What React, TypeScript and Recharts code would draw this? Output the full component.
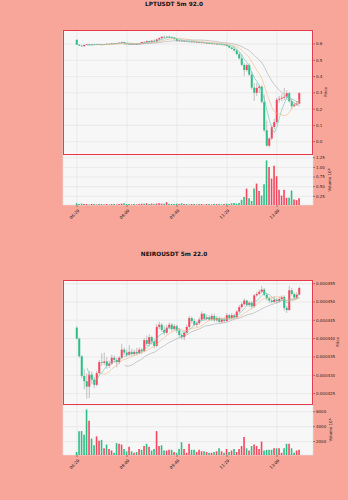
import React from "react";
import { ComposedChart, Bar, Line, XAxis, YAxis, CartesianGrid, Cell } from "recharts";

// x tick labels (5m candles, one label every 20 candles)
const TICK_INDEX = [0, 20, 40, 60, 80];
const TICK_LABELS = ["06:20", "08:00", "09:40", "11:20", "13:00"];

// LPTUSDT 5m
const LPT_OPEN = [
  0.625, 0.596, 0.59, 0.586, 0.594, 0.598, 0.595, 0.597, 0.596, 0.598,
  0.597, 0.595, 0.599, 0.601, 0.6, 0.603, 0.602, 0.605, 0.608, 0.612,
  0.604, 0.6, 0.599, 0.6, 0.598, 0.6, 0.602, 0.612, 0.61, 0.618,
  0.612, 0.62, 0.616, 0.628, 0.636, 0.644, 0.642, 0.645, 0.64, 0.638,
  0.63, 0.618, 0.62, 0.616, 0.618, 0.615, 0.613, 0.614, 0.611, 0.612,
  0.608, 0.609, 0.605, 0.606, 0.602, 0.603, 0.599, 0.601, 0.597, 0.594,
  0.596, 0.588, 0.578, 0.57, 0.56, 0.538, 0.512, 0.472, 0.44, 0.47,
  0.412, 0.332, 0.3, 0.33, 0.338, 0.245, 0.07, -0.025, 0.02, 0.09,
  0.12, 0.258, 0.264, 0.27, 0.276, 0.298, 0.248, 0.218, 0.228, 0.234,
];
const LPT_HIGH = [
  0.63, 0.598, 0.593, 0.596, 0.6, 0.601, 0.599, 0.6, 0.6, 0.601,
  0.6, 0.6, 0.603, 0.604, 0.605, 0.606, 0.607, 0.61, 0.615, 0.613,
  0.606, 0.603, 0.602, 0.603, 0.601, 0.604, 0.614, 0.618, 0.622, 0.62,
  0.624, 0.628, 0.632, 0.64, 0.648, 0.65, 0.648, 0.648, 0.646, 0.64,
  0.632, 0.624, 0.623, 0.62, 0.621, 0.619, 0.617, 0.616, 0.615, 0.614,
  0.612, 0.611, 0.609, 0.608, 0.606, 0.605, 0.604, 0.603, 0.601, 0.598,
  0.598, 0.59, 0.582, 0.585, 0.568, 0.552, 0.535, 0.482, 0.478, 0.48,
  0.43, 0.36, 0.36, 0.35, 0.345, 0.29, 0.13, 0.025, 0.1, 0.14,
  0.27, 0.28, 0.29, 0.33, 0.315, 0.305, 0.262, 0.24, 0.25, 0.305,
];
const LPT_LOW = [
  0.594, 0.588, 0.584, 0.585, 0.592, 0.593, 0.593, 0.594, 0.594, 0.595,
  0.593, 0.594, 0.597, 0.598, 0.599, 0.6, 0.601, 0.603, 0.604, 0.603,
  0.598, 0.597, 0.596, 0.597, 0.596, 0.598, 0.6, 0.608, 0.608, 0.61,
  0.61, 0.614, 0.615, 0.624, 0.632, 0.638, 0.638, 0.636, 0.634, 0.628,
  0.615, 0.614, 0.614, 0.612, 0.613, 0.611, 0.61, 0.609, 0.608, 0.606,
  0.605, 0.603, 0.602, 0.6, 0.599, 0.597, 0.596, 0.595, 0.592, 0.59,
  0.585, 0.574, 0.566, 0.555, 0.532, 0.505, 0.465, 0.405, 0.43, 0.405,
  0.32, 0.25, 0.28, 0.3, 0.235, 0.06, -0.03, -0.035, 0.01, 0.075,
  0.11, 0.24, 0.25, 0.255, 0.255, 0.24, 0.205, 0.212, 0.22, 0.228,
];
const LPT_CLOSE = [
  0.596, 0.59, 0.586, 0.594, 0.598, 0.595, 0.597, 0.596, 0.598, 0.597,
  0.595, 0.599, 0.601, 0.6, 0.603, 0.602, 0.605, 0.608, 0.612, 0.604,
  0.6, 0.599, 0.6, 0.598, 0.6, 0.602, 0.612, 0.61, 0.618, 0.612,
  0.62, 0.616, 0.628, 0.636, 0.644, 0.642, 0.645, 0.64, 0.638, 0.63,
  0.618, 0.62, 0.616, 0.618, 0.615, 0.613, 0.614, 0.611, 0.612, 0.608,
  0.609, 0.605, 0.606, 0.602, 0.603, 0.599, 0.601, 0.597, 0.594, 0.596,
  0.588, 0.578, 0.57, 0.56, 0.538, 0.512, 0.472, 0.44, 0.47, 0.412,
  0.332, 0.3, 0.33, 0.338, 0.245, 0.07, -0.025, 0.02, 0.09, 0.12,
  0.258, 0.264, 0.27, 0.276, 0.298, 0.248, 0.218, 0.228, 0.234, 0.298,
];
const LPT_VOLUME = [
  0.07, 0.05, 0.06, 0.05, 0.05, 0.04, 0.05, 0.05, 0.04, 0.05,
  0.05, 0.04, 0.05, 0.04, 0.05, 0.05, 0.04, 0.05, 0.06, 0.07,
  0.05, 0.05, 0.04, 0.05, 0.04, 0.05, 0.06, 0.06, 0.07, 0.05,
  0.06, 0.05, 0.06, 0.07, 0.06, 0.06, 0.1, 0.06, 0.05, 0.05,
  0.06, 0.05, 0.07, 0.05, 0.05, 0.04, 0.05, 0.05, 0.04, 0.05,
  0.05, 0.04, 0.05, 0.05, 0.04, 0.05, 0.05, 0.05, 0.04, 0.05,
  0.06, 0.05, 0.07, 0.08, 0.06, 0.08, 0.16, 0.23, 0.45, 0.2,
  0.13, 0.45, 0.58, 0.39, 0.27, 0.56, 1.18, 1.01, 0.71, 1.04,
  0.77, 0.42, 0.27, 0.42, 0.21, 0.21, 0.4, 0.17, 0.15, 0.2,
];

// NEIROUSDT 5m, prices in units of 1e-6
const NEIRO_OPEN = [
  443.0, 440.0, 435.2, 429.8, 428.4, 426.9, 430.2, 428.8, 427.4, 430.6,
  433.6, 433.4, 433.8, 432.6, 433.2, 434.8, 434.2, 433.6, 434.8, 437.0,
  436.2, 435.6, 436.4, 435.8, 436.4, 436.0, 437.0, 436.6, 439.6, 438.6,
  440.4, 439.2, 438.0, 443.2, 443.8, 442.4, 441.6, 443.0, 443.8, 442.6,
  443.4, 442.2, 441.0, 440.4, 441.6, 443.2, 445.6, 444.8, 443.8, 444.2,
  445.2, 446.8, 445.4, 445.8, 445.2, 446.2, 445.0, 445.6, 444.6, 445.2,
  444.8, 446.4, 445.6, 446.4, 445.8, 447.4, 448.6, 449.4, 450.4, 449.2,
  449.8, 448.8, 451.8, 452.2, 452.8, 453.4, 452.0, 451.0, 450.4, 450.0,
  450.6, 450.2, 450.8, 451.4, 448.4, 447.8, 453.2, 452.2, 451.2, 452.0,
];
const NEIRO_HIGH = [
  443.3, 440.3, 435.5, 431.8, 430.5, 431.2, 431.0, 429.6, 431.2, 434.2,
  436.0, 436.2, 435.0, 434.0, 435.6, 435.4, 434.8, 435.2, 438.6, 437.6,
  437.0, 438.2, 437.2, 437.0, 437.5, 437.6, 437.4, 440.2, 440.8, 441.2,
  440.8, 440.0, 444.0, 444.6, 444.2, 443.4, 443.8, 444.4, 444.2, 444.0,
  443.8, 442.8, 441.6, 442.0, 443.8, 446.2, 446.0, 445.4, 444.8, 445.8,
  447.4, 447.0, 446.6, 446.4, 446.8, 446.8, 446.2, 446.0, 445.8, 445.8,
  447.0, 446.8, 447.0, 446.8, 447.8, 449.2, 450.0, 451.0, 450.6, 450.2,
  450.2, 452.2, 452.8, 453.4, 454.4, 453.8, 452.4, 451.4, 451.0, 451.6,
  451.0, 451.4, 451.8, 451.8, 449.0, 454.4, 453.8, 452.6, 452.6, 454.2,
];
const NEIRO_LOW = [
  439.8, 434.8, 429.2, 426.2, 423.6, 423.8, 427.6, 426.5, 427.0, 430.2,
  432.6, 432.8, 431.8, 432.0, 432.8, 433.5, 432.2, 433.0, 434.5, 435.6,
  435.0, 435.2, 435.2, 435.3, 435.5, 435.8, 435.9, 436.3, 438.0, 437.8,
  438.4, 437.4, 437.6, 442.6, 441.8, 441.0, 441.2, 442.6, 442.0, 442.2,
  441.6, 440.4, 439.8, 439.6, 441.2, 442.8, 444.2, 443.4, 443.2, 443.8,
  444.8, 445.0, 445.0, 444.8, 444.8, 444.6, 444.6, 444.2, 444.2, 444.4,
  444.6, 445.2, 445.2, 445.4, 445.6, 447.0, 448.2, 449.0, 448.8, 448.6,
  448.2, 448.4, 451.4, 451.8, 452.4, 451.6, 450.4, 449.8, 449.6, 449.8,
  449.6, 449.8, 450.4, 447.6, 447.0, 447.6, 451.8, 450.8, 450.8, 451.8,
];
const NEIRO_CLOSE = [
  440.0, 435.2, 429.8, 428.4, 426.9, 430.2, 428.8, 427.4, 430.6, 433.6,
  433.4, 433.8, 432.6, 433.2, 434.8, 434.2, 433.6, 434.8, 437.0, 436.2,
  435.6, 436.4, 435.8, 436.4, 436.0, 437.0, 436.6, 439.6, 438.6, 440.4,
  439.2, 438.0, 443.2, 443.8, 442.4, 441.6, 443.0, 443.8, 442.6, 443.4,
  442.2, 441.0, 440.4, 441.6, 443.2, 445.6, 444.8, 443.8, 444.2, 445.2,
  446.8, 445.4, 445.8, 445.2, 446.2, 445.0, 445.6, 444.6, 445.2, 444.8,
  446.4, 445.6, 446.4, 445.8, 447.4, 448.6, 449.4, 450.4, 449.2, 449.8,
  448.8, 451.8, 452.2, 452.8, 453.4, 452.0, 451.0, 450.4, 450.0, 450.6,
  450.2, 450.8, 451.4, 448.4, 447.8, 453.2, 452.2, 451.2, 452.0, 453.8,
];
const NEIRO_VOLUME = [
  600, 3400, 3400, 2900, 6300, 4800, 2400, 1500, 2700, 2100,
  2200, 1100, 1600, 1000, 800, 500, 1800, 1700, 1600, 1000,
  700, 1300, 700, 500, 600, 1000, 900, 1400, 1700, 1300,
  800, 1000, 3400, 1400, 1500, 800, 800, 900, 900, 600,
  500, 1000, 1900, 1000, 500, 1700, 900, 900, 600, 900,
  700, 700, 600, 500, 500, 600, 700, 1100, 700, 500,
  1000, 600, 800, 1000, 600, 1000, 1400, 2600, 1100, 800,
  1400, 1600, 1400, 1000, 2000, 800, 900, 900, 900, 1100,
  1100, 1100, 500, 1100, 1700, 1700, 1100, 500, 800, 900,
];

const MA_PERIODS = [5, 10, 20];
const MA_COLORS = ["#5cc6b4", "#f3b77f", "#a9a9a9"];

const UP = "#f6465d";
const DOWN = "#2ebd85";
const WICK = "#9a9a9a";
const BG = "#f9a69a";
const FRAME = "#e8394b";
const FONT = "DejaVu Sans, sans-serif";

function sma(values: number[], n: number) {
  return values.map((_, i) => {
    if (i < n - 1) return null;
    let s = 0;
    for (let k = i - n + 1; k <= i; k++) s += values[k];
    return s / n;
  });
}

function buildRows(open: number[], high: number[], low: number[], close: number[], vol: number[]) {
  const mas = MA_PERIODS.map((p) => sma(close, p));
  return close.map((c, i) => ({
    i,
    open: open[i],
    high: high[i],
    low: low[i],
    close: c,
    range: [low[i], high[i]],
    vol: vol[i],
    ma0: mas[0][i],
    ma1: mas[1][i],
    ma2: mas[2][i],
  }));
}

function Candle(props: any) {
  const { x, y, width, height, payload } = props;
  if (!payload || x == null) return null;
  const { open, close, high, low } = payload;
  const k = high > low ? height / (high - low) : 0;
  const yo = y + (high - open) * k;
  const yc = y + (high - close) * k;
  const cx = x + width / 2;
  const top = Math.min(yo, yc);
  const h = Math.max(Math.abs(yc - yo), 0.6);
  return (
    <g>
      <line x1={cx} x2={cx} y1={y} y2={y + height} stroke={WICK} strokeWidth={0.6} />
      <rect x={x} y={top} width={width} height={h} fill={close >= open ? UP : DOWN} />
    </g>
  );
}

function TimeTick(props: any) {
  const { x, y, payload } = props;
  const idx = TICK_INDEX.indexOf(payload.value);
  const ax = x + 2.5;
  const ay = y + 2;
  return (
    <text
      x={ax}
      y={ay}
      transform={`rotate(-45 ${ax} ${ay})`}
      textAnchor="end"
      fontSize={4}
      fontFamily={FONT}
      fill="#222"
    >
      {TICK_LABELS[idx]}
    </text>
  );
}

const W = 348;
const PLOT_LEFT = 63;
const AXIS_W = 35;
const PAD = { left: 12.75, right: 12.25 };

interface CoinProps {
  top: number;
  title: string;
  rows: any[];
  priceDomain: [number, number];
  priceTicks: number[];
  priceFmt: (v: number) => string;
  priceLabelX: number;
  volDomain: [number, number];
  volTicks: number[];
  volFmt: (v: number) => string;
  volLabelX: number;
  volExp: string;
}

function CoinChart(p: CoinProps) {
  const { top, title, rows } = p;
  const tickStyle = { fontSize: 4, fill: "#222", fontFamily: FONT };
  return (
    <>
      <div
        style={{
          position: "absolute",
          top: top + 1,
          left: 0,
          width: W,
          textAlign: "center",
          fontFamily: FONT,
          fontWeight: "bold",
          fontSize: 5.8,
          color: "#111",
        }}
      >
        {title}
      </div>
      <div style={{ position: "absolute", top: top + 30, left: 0 }}>
        <ComposedChart width={W} height={125} data={rows} margin={{ top: 0, right: 0, bottom: 0, left: PLOT_LEFT }}>
          <CartesianGrid fill="#f7f7f7" stroke="#e3e3e3" strokeWidth={0.6} />
          <XAxis dataKey="i" type="category" hide ticks={TICK_INDEX} padding={PAD} />
          <YAxis
            orientation="right"
            width={AXIS_W}
            type="number"
            domain={p.priceDomain}
            allowDataOverflow
            ticks={p.priceTicks}
            interval={0}
            tickFormatter={p.priceFmt}
            tick={tickStyle}
            tickSize={2}
            tickMargin={1}
            axisLine={false}
            tickLine={{ stroke: "#333", strokeWidth: 0.5 }}
          />
          <Bar dataKey="range" barSize={2} shape={<Candle />} isAnimationActive={false} />
          {MA_PERIODS.map((n, k) => (
            <Line
              key={n}
              dataKey={`ma${k}`}
              stroke={MA_COLORS[k]}
              strokeWidth={0.6}
              dot={false}
              activeDot={false}
              isAnimationActive={false}
            />
          ))}
        </ComposedChart>
      </div>
      <div
        style={{
          position: "absolute",
          top: top + 30,
          left: PLOT_LEFT,
          width: 250,
          height: 125,
          border: `1.5px solid ${FRAME}`,
          boxSizing: "border-box",
        }}
      />
      <div style={{ position: "absolute", top: top + 155, left: 0 }}>
        <ComposedChart width={W} height={72} data={rows} margin={{ top: 0, right: 0, bottom: 0, left: PLOT_LEFT }}>
          <CartesianGrid fill="#f7f7f7" stroke="#e3e3e3" strokeWidth={0.6} />
          <XAxis
            dataKey="i"
            type="category"
            ticks={TICK_INDEX}
            interval={0}
            padding={PAD}
            height={22}
            tick={<TimeTick />}
            tickSize={2}
            axisLine={false}
            tickLine={{ stroke: "#333", strokeWidth: 0.5 }}
          />
          <YAxis
            orientation="right"
            width={AXIS_W}
            type="number"
            domain={p.volDomain}
            allowDataOverflow
            ticks={p.volTicks}
            interval={0}
            tickFormatter={p.volFmt}
            tick={tickStyle}
            tickSize={2}
            tickMargin={1}
            axisLine={false}
            tickLine={{ stroke: "#333", strokeWidth: 0.5 }}
          />
          <Bar dataKey="vol" barSize={1.6} isAnimationActive={false}>
            {rows.map((r) => (
              <Cell key={r.i} fill={r.close >= r.open ? UP : DOWN} />
            ))}
          </Bar>
        </ComposedChart>
      </div>
      <svg style={{ position: "absolute", top, left: 0 }} width={W} height={230}>
        <text
          x={p.priceLabelX}
          y={92}
          transform={`rotate(-90 ${p.priceLabelX} 92)`}
          textAnchor="middle"
          fontSize={4}
          fontFamily={FONT}
          fill="#222"
        >
          Price
        </text>
        <text
          x={p.volLabelX}
          y={180}
          transform={`rotate(-90 ${p.volLabelX} 180)`}
          textAnchor="middle"
          fontSize={4}
          fontFamily={FONT}
          fill="#222"
        >
          Volume  10
          <tspan dy={-1.5} fontSize={3}>
            {p.volExp}
          </tspan>
        </text>
      </svg>
    </>
  );
}

const LPT_ROWS = buildRows(LPT_OPEN, LPT_HIGH, LPT_LOW, LPT_CLOSE, LPT_VOLUME);
const NEIRO_ROWS = buildRows(NEIRO_OPEN, NEIRO_HIGH, NEIRO_LOW, NEIRO_CLOSE, NEIRO_VOLUME);

export default function App() {
  return (
    <div
      style={{
        position: "absolute",
        left: 0,
        top: 0,
        width: W,
        height: 500,
        background: BG,
        overflow: "hidden",
      }}
    >
      <CoinChart
        top={0}
        title="LPTUSDT 5m 92.0"
        rows={LPT_ROWS}
        priceDomain={[-0.082, 0.686]}
        priceTicks={[0, 0.1, 0.2, 0.3, 0.4, 0.5, 0.6]}
        priceFmt={(v) => v.toFixed(1)}
        priceLabelX={327}
        volDomain={[0.025, 1.32]}
        volTicks={[0.25, 0.5, 0.75, 1.0, 1.25]}
        volFmt={(v) => v.toFixed(2)}
        volLabelX={331}
        volExp="6"
      />
      <CoinChart
        top={250}
        title="NEIROUSDT 5m 22.0"
        rows={NEIRO_ROWS}
        priceDomain={[421.9, 456.0]}
        priceTicks={[425, 430, 435, 440, 445, 450, 455]}
        priceFmt={(v) => (v / 1e6).toFixed(6)}
        priceLabelX={339}
        volDomain={[200, 6905]}
        volTicks={[2000, 4000, 6000]}
        volFmt={(v) => String(Math.round(v))}
        volLabelX={332}
        volExp="6"
      />
    </div>
  );
}
